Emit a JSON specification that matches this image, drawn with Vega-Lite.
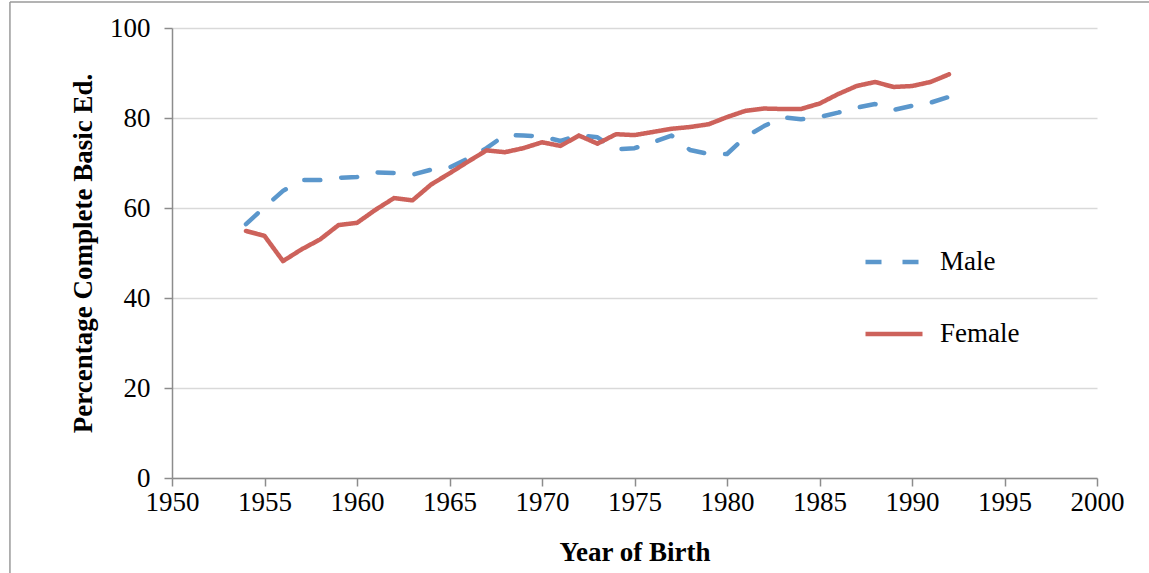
{
  "$schema": "https://vega.github.io/schema/vega-lite/v6.json",
  "width": 925,
  "height": 450,
  "autosize": "none",
  "padding": {"left": 172, "top": 28, "right": 52, "bottom": 95},
  "background": "white",
  "config": {
    "view": {"stroke": null},
    "font": "Liberation Serif"
  },
  "datasets": {
    "series": [
      {"year": 1954, "sex": "Male", "pct": 56.4},
      {"year": 1955, "sex": "Male", "pct": 60.2},
      {"year": 1956, "sex": "Male", "pct": 63.8},
      {"year": 1957, "sex": "Male", "pct": 66.2},
      {"year": 1958, "sex": "Male", "pct": 66.2},
      {"year": 1959, "sex": "Male", "pct": 66.7},
      {"year": 1960, "sex": "Male", "pct": 66.9},
      {"year": 1961, "sex": "Male", "pct": 67.9},
      {"year": 1962, "sex": "Male", "pct": 67.8},
      {"year": 1963, "sex": "Male", "pct": 67.4},
      {"year": 1964, "sex": "Male", "pct": 68.5},
      {"year": 1965, "sex": "Male", "pct": 69.0},
      {"year": 1966, "sex": "Male", "pct": 71.0},
      {"year": 1967, "sex": "Male", "pct": 73.3},
      {"year": 1968, "sex": "Male", "pct": 76.2},
      {"year": 1969, "sex": "Male", "pct": 76.1},
      {"year": 1970, "sex": "Male", "pct": 75.9},
      {"year": 1971, "sex": "Male", "pct": 74.9},
      {"year": 1972, "sex": "Male", "pct": 76.2},
      {"year": 1973, "sex": "Male", "pct": 75.7},
      {"year": 1974, "sex": "Male", "pct": 73.0},
      {"year": 1975, "sex": "Male", "pct": 73.3},
      {"year": 1976, "sex": "Male", "pct": 74.6},
      {"year": 1977, "sex": "Male", "pct": 76.1},
      {"year": 1978, "sex": "Male", "pct": 72.9},
      {"year": 1979, "sex": "Male", "pct": 72.0},
      {"year": 1980, "sex": "Male", "pct": 72.0},
      {"year": 1981, "sex": "Male", "pct": 75.8},
      {"year": 1982, "sex": "Male", "pct": 78.2},
      {"year": 1983, "sex": "Male", "pct": 80.2},
      {"year": 1984, "sex": "Male", "pct": 79.7},
      {"year": 1985, "sex": "Male", "pct": 80.2},
      {"year": 1986, "sex": "Male", "pct": 81.2},
      {"year": 1987, "sex": "Male", "pct": 82.3},
      {"year": 1988, "sex": "Male", "pct": 83.1},
      {"year": 1989, "sex": "Male", "pct": 81.8},
      {"year": 1990, "sex": "Male", "pct": 82.7},
      {"year": 1991, "sex": "Male", "pct": 83.4},
      {"year": 1992, "sex": "Male", "pct": 84.7},
      {"year": 1954, "sex": "Female", "pct": 54.9},
      {"year": 1955, "sex": "Female", "pct": 53.8},
      {"year": 1956, "sex": "Female", "pct": 48.2},
      {"year": 1957, "sex": "Female", "pct": 50.8},
      {"year": 1958, "sex": "Female", "pct": 53.0},
      {"year": 1959, "sex": "Female", "pct": 56.2},
      {"year": 1960, "sex": "Female", "pct": 56.7},
      {"year": 1961, "sex": "Female", "pct": 59.6},
      {"year": 1962, "sex": "Female", "pct": 62.2},
      {"year": 1963, "sex": "Female", "pct": 61.7},
      {"year": 1964, "sex": "Female", "pct": 65.2},
      {"year": 1965, "sex": "Female", "pct": 67.7},
      {"year": 1966, "sex": "Female", "pct": 70.3},
      {"year": 1967, "sex": "Female", "pct": 72.8},
      {"year": 1968, "sex": "Female", "pct": 72.4},
      {"year": 1969, "sex": "Female", "pct": 73.3},
      {"year": 1970, "sex": "Female", "pct": 74.6},
      {"year": 1971, "sex": "Female", "pct": 73.8},
      {"year": 1972, "sex": "Female", "pct": 76.1},
      {"year": 1973, "sex": "Female", "pct": 74.3},
      {"year": 1974, "sex": "Female", "pct": 76.4},
      {"year": 1975, "sex": "Female", "pct": 76.2},
      {"year": 1976, "sex": "Female", "pct": 76.9},
      {"year": 1977, "sex": "Female", "pct": 77.6},
      {"year": 1978, "sex": "Female", "pct": 78.0},
      {"year": 1979, "sex": "Female", "pct": 78.6},
      {"year": 1980, "sex": "Female", "pct": 80.2},
      {"year": 1981, "sex": "Female", "pct": 81.6},
      {"year": 1982, "sex": "Female", "pct": 82.1},
      {"year": 1983, "sex": "Female", "pct": 82.0},
      {"year": 1984, "sex": "Female", "pct": 82.0},
      {"year": 1985, "sex": "Female", "pct": 83.2},
      {"year": 1986, "sex": "Female", "pct": 85.3},
      {"year": 1987, "sex": "Female", "pct": 87.1},
      {"year": 1988, "sex": "Female", "pct": 88.0},
      {"year": 1989, "sex": "Female", "pct": 86.9},
      {"year": 1990, "sex": "Female", "pct": 87.1},
      {"year": 1991, "sex": "Female", "pct": 88.0},
      {"year": 1992, "sex": "Female", "pct": 89.7}
    ]
  },
  "layer": [
    {
      "data": {"values": [{"x": 1941.24, "x2": 2003, "y": 105.8, "y2": 105.8}, {"x": 1941.24, "x2": 1941.24, "y": 105.8, "y2": -21.5}]},
      "mark": {"type": "rule", "clip": false, "stroke": "#9a9a9a", "strokeWidth": 1.5},
      "encoding": {
        "x": {"field": "x", "type": "quantitative", "scale": {"domain": [1950, 2000], "nice": false, "zero": false}},
        "x2": {"field": "x2"},
        "y": {"field": "y", "type": "quantitative", "scale": {"domain": [0, 100], "nice": false}},
        "y2": {"field": "y2"}
      }
    },
    {
      "data": {"name": "series"},
      "mark": {"type": "line", "strokeWidth": 4.5, "strokeCap": "round", "strokeJoin": "round"},
      "encoding": {
        "x": {
          "field": "year", "type": "quantitative",
          "scale": {"domain": [1950, 2000], "nice": false, "zero": false},
          "axis": {
            "values": [1950, 1955, 1960, 1965, 1970, 1975, 1980, 1985, 1990, 1995, 2000],
            "format": "d",
            "grid": false,
            "domainColor": "#8c8c8c", "domainWidth": 1.5,
            "tickColor": "#8c8c8c", "tickWidth": 1.5, "tickSize": 8,
            "labelFont": "Liberation Serif", "labelFontSize": 27, "labelColor": "#000000", "labelPadding": 3,
            "labelFlush": false,
            "title": "Year of Birth",
            "titleFont": "Liberation Serif", "titleFontSize": 27, "titleFontWeight": "bold", "titleColor": "#000000",
            "titlePadding": 24
          }
        },
        "y": {
          "field": "pct", "type": "quantitative",
          "scale": {"domain": [0, 100], "nice": false},
          "axis": {
            "values": [0, 20, 40, 60, 80, 100],
            "grid": true, "gridColor": "#d9d9d9", "gridWidth": 1.5,
            "domainColor": "#8c8c8c", "domainWidth": 1.5,
            "tickColor": "#8c8c8c", "tickWidth": 1.5, "tickSize": 8,
            "labelFont": "Liberation Serif", "labelFontSize": 27, "labelColor": "#000000", "labelPadding": 14,
            "labelFlush": false,
            "title": "Percentage Complete Basic Ed.",
            "titleFont": "Liberation Serif", "titleFontSize": 27, "titleFontWeight": "bold", "titleColor": "#000000",
            "titlePadding": 12
          }
        },
        "color": {
          "field": "sex", "type": "nominal",
          "scale": {"domain": ["Male", "Female"], "range": ["#5b97cc", "#cd625b"]},
          "legend": {
            "title": null, "orient": "none", "legendX": 691, "legendY": 203,
            "symbolType": "stroke", "symbolSize": 3249, "symbolStrokeWidth": 4.5,
            "labelFont": "Liberation Serif", "labelFontSize": 27, "labelColor": "#000000",
            "labelOffset": 15, "rowPadding": 28
          }
        },
        "strokeDash": {
          "field": "sex", "type": "nominal",
          "scale": {"domain": ["Male", "Female"], "range": [[16, 21], [1, 0]]},
          "legend": {
            "title": null, "orient": "none", "legendX": 691, "legendY": 203,
            "symbolType": "stroke", "symbolSize": 3249, "symbolStrokeWidth": 4.5,
            "labelFont": "Liberation Serif", "labelFontSize": 27, "labelColor": "#000000",
            "labelOffset": 15, "rowPadding": 28
          }
        }
      }
    }
  ]
}
